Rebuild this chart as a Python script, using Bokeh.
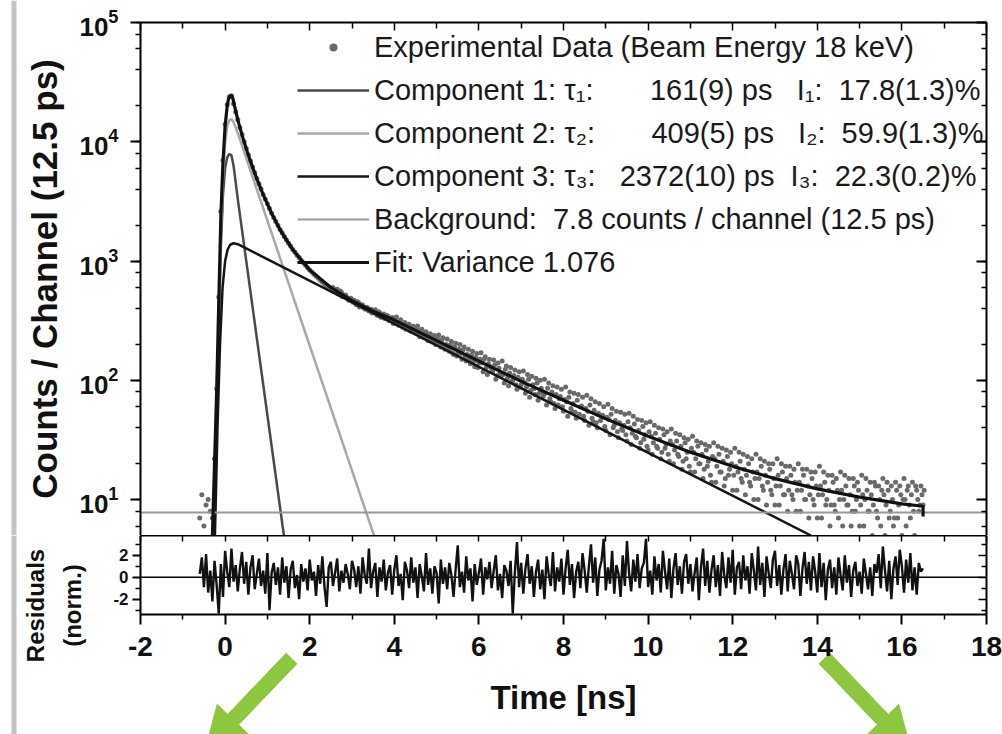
import math
from bokeh.plotting import figure
from bokeh.models import (LinearAxis, LogAxis, Legend, LegendItem, FixedTicker, LogTicker,
                          Range1d, CustomJSTickFormatter, Label, BoxAnnotation)
from bokeh.layouts import column
from bokeh.embed import file_html
from bokeh.resources import INLINE

# ---------------- data ----------------
# experimental counts per channel: channel start / width in ns
data_t0 = -0.6
data_dt = 0.05
data_counts = [
    7, 11, 6, 9, 10, 8, 7, 22, 85, 500, 2600, 7000,
    14000, 20500, 23800, 24300, 20800, 17800, 15300, 13200, 11500, 10000,
    8800, 7750, 6900, 6150, 5500, 4920, 4450, 4020, 3620, 3300,
    3020, 2760, 2520, 2320, 2150, 1990, 1840, 1720, 1600, 1500,
    1410, 1330, 1250, 1190, 1120, 1070, 1010, 970, 920, 880,
    840, 810, 775, 745, 720, 690, 668, 645, 625, 605, 590,
    600, 565, 580, 540, 548, 512, 520, 490, 482, 470,
    470, 430, 452, 420, 428, 398, 410, 382, 395, 372,
    390, 350, 372, 338, 360, 330, 345, 318, 336, 310,
    340, 290, 322, 278, 305, 270, 295, 258, 284, 250,
    285, 232, 268, 228, 255, 215, 246, 210, 238, 205,
    240, 190, 228, 182, 222, 175, 212, 165, 205, 170,
    200, 150, 190, 145, 182, 138, 175, 130, 168, 140,
    170, 118, 158, 112, 150, 125, 148, 102, 140, 115,
    145, 95, 132, 90, 128, 100, 122, 84, 118, 92,
    120, 78, 112, 72, 108, 85, 104, 68, 100, 80,
    102, 62, 95, 66, 90, 58, 88, 70, 84, 55,
    88, 50, 80, 55, 78, 48, 76, 60, 72, 46,
    75, 42, 70, 45, 66, 40, 64, 50, 60, 38,
    63, 35, 58, 42, 55, 33, 54, 38, 52, 31,
    53, 29, 50, 34, 47, 27, 46, 32, 44, 26,
    45, 24, 42, 28, 40, 22, 39, 27, 37, 21,
    39, 20, 36, 24, 35, 18, 33, 22, 32, 17,
    34, 17, 31, 20, 30, 15, 29, 19, 28, 14,
    30, 14, 28, 17, 27, 13, 26, 16, 25, 12,
    27, 12, 25, 15, 24, 11, 23, 14, 22, 10,
    24, 10, 22, 13, 21, 9, 20, 12, 20, 9,
    22, 9, 20, 11, 19, 8, 19, 11, 18, 8,
    20, 8, 18, 10, 18, 7, 17, 10, 17, 7,
    19, 7, 17, 9, 16, 6, 16, 9, 15, 7,
    17, 6, 16, 9, 15, 6, 15, 8, 14, 6,
    16, 6, 15, 8, 14, 5, 14, 8, 13, 6,
    15, 5, 14, 7, 13, 6, 14, 7, 13, 5,
    15, 6, 13, 7, 14, 5, 12, 8, 13, 9,
]
# the in-between channels of the tail (start 2.575 ns, same width)
data2_t0 = 2.575
data2_dt = 0.05
data2_counts = [
    575, 555, 530, 560, 505, 515, 495, 470, 488, 452,
    445, 455, 412, 430, 405, 395, 402, 388, 366, 380,
    362, 375, 340, 348, 330, 352, 318, 325, 300, 328,
    305, 312, 288, 296, 268, 290, 262, 275, 255, 268,
    250, 262, 236, 248, 222, 240, 212, 228, 200, 222,
    205, 218, 195, 200, 186, 198, 170, 190, 160, 182,
    168, 180, 158, 165, 150, 162, 144, 155, 128, 150,
    140, 150, 128, 138, 130, 118, 135, 110, 126, 108,
    112, 124, 104, 115, 98, 110, 92, 106, 88, 102,
    96, 88, 102, 82, 92, 76, 95, 78, 86, 74,
    78, 86, 70, 80, 64, 76, 62, 73, 60, 69,
    66, 72, 58, 64, 54, 68, 52, 61, 50, 58,
    55, 62, 48, 56, 44, 53, 46, 51, 41, 49,
    47, 52, 40, 46, 37, 44, 39, 42, 35, 45,
    40, 36, 43, 33, 38, 30, 41, 35, 28, 37,
    34, 30, 36, 27, 32, 25, 35, 29, 24, 31,
    29, 26, 31, 23, 28, 21, 30, 25, 19, 27,
    25, 22, 28, 20, 24, 18, 26, 21, 16, 23,
    22, 19, 24, 17, 21, 15, 23, 18, 20, 16,
    19, 17, 21, 14, 18, 16, 20, 13, 17, 15,
    17, 15, 19, 12, 16, 14, 18, 11, 15, 13,
    16, 13, 17, 11, 15, 12, 16, 10, 14, 12,
    14, 12, 16, 10, 13, 11, 15, 9, 13, 11,
    13, 11, 14, 10, 12, 9, 14, 8, 12, 10,
    12, 10, 13, 9, 11, 8, 13, 10, 12, 9,
    11, 10, 12, 8, 11, 9, 13, 7, 10, 12,
    11, 9, 12, 8, 10, 7, 12, 9, 11, 10,
    10, 12, 9, 11, 8, 13, 10, 9, 11, 12,
]

fit_t = [-0.30, -0.25, -0.20, -0.15, -0.10, -0.05, 0.00, 0.05, 0.08, 0.12, 0.15, 0.18, 0.22,
         0.30, 0.40, 0.50, 0.60, 0.75, 0.90, 1.10, 1.30, 1.60, 2.00, 2.50,
         3.00, 3.50, 4.00, 5.00, 6.00, 7.00, 8.00, 9.00,
         10.0, 11.0, 12.0, 13.0, 14.0, 15.0, 16.0, 16.5, 16.5]
fit_y = [5, 20, 80, 450, 2400, 6800, 13500, 20000, 22800, 24200, 24400, 23300, 20200,
         15250, 11410, 8750, 6850, 4890, 3600, 2510, 1825, 1245, 840, 600,
         465, 380, 320, 215, 145, 98, 68, 47.5,
         34, 25, 19, 15, 12.3, 10.5, 9.2, 8.8, 7.2]

c1_t = [-0.26, -0.20, -0.15, -0.10, -0.05, 0.00, 0.05, 0.10, 0.15, 0.20, 0.30, 1.39]
c1_y = [5, 40, 250, 1300, 3600, 6000, 7400, 7900, 7700, 6300, 3300, 5]

c2_t = [-0.27, -0.20, -0.15, -0.10, -0.05, 0.00, 0.05, 0.10, 0.15, 0.20, 0.30, 3.52]
c2_y = [5, 55, 330, 1700, 5000, 9800, 13500, 15200, 15500, 14600, 11800, 5]

c3_t = [-0.24, -0.18, -0.12, -0.06, 0.00, 0.06, 0.12, 0.20, 0.30, 13.85]
c3_y = [5, 40, 200, 600, 1000, 1250, 1370, 1410, 1385, 5]

bg_level = 7.8

res_t0 = -0.6
res_dt = 0.05
residuals = [
    0.3, 1.8, -0.9, 2.1, -1.4, 0.6, -2.2, 1.5, -0.7, -3.3,
    1.2, -1.8, 2.4, 0.5, -0.9, 2.6, -0.4, 1.1, -1.3, 0.8,
    2.3, -0.6, 1.4, -1.6, 0.9, 2.0, -1.1, 0.3, 1.7, -0.8,
    0.6, -1.5, 2.2, -3.0, 0.4, 1.3, -0.7, 0.9, -1.6, 1.8,
    -0.5, 1.0, -1.9, 0.7, 1.5, -1.0, 0.2, -2.0, 1.2, -0.4,
    0.8, -1.2, 1.6, -0.3, 0.5, -1.7, 1.1, -0.6, 1.9, -0.9,
    -2.7, 0.9, 1.4, -0.8, 0.4, 1.7, -1.3, 0.6, -0.5, 1.2,
    0.3, -1.1, 1.5, 0.7, -0.9, 1.0, -1.5, 1.8, 0.2, -0.6,
    2.6, -1.0, 0.5, 1.3, -1.8, 0.9, -0.4, 1.6, -1.2, 0.4,
    1.1, -1.6, 0.7, 2.0, -0.8, 0.3, -2.1, 1.4, 0.6, -1.0,
    1.8, -0.5, 0.9, -1.9, 1.2, 0.1, -1.3, 2.2, -0.7, 0.8,
    -1.5, 1.0, 0.4, -2.4, 1.6, -0.6, 0.9, -1.1, 1.3, 0.2,
    -1.8, 0.7, 2.9, -0.9, 0.5, -1.4, 1.9, -0.3, 0.8, -2.2,
    1.2, -0.7, 0.4, 1.7, -1.6, 0.9, -0.2, 1.4, -1.0, 0.6,
    2.0, -1.2, 0.3, -1.9, 1.1, 0.6, -0.8, 1.5, -3.3, 0.4,
    3.2, -0.9, 1.3, -1.5, 0.8, 2.1, -0.6, 1.0, -1.8, 0.5,
    1.6, -1.1, 0.7, -2.0, 1.9, 0.3, -0.8, 2.3, -1.3, 0.9,
    -0.4, 1.7, -1.6, 0.8, 2.5, -0.7, 1.2, -1.9, 0.5, 1.4,
    -1.0, 2.2, 0.6, -1.4, 1.0, 3.0, -0.5, 1.8, -1.7, 0.7,
    1.5, 3.5, -1.2, 0.9, -0.6, 2.4, -1.5, 1.1, 0.3, -1.8,
    2.0, -0.8, 3.3, 0.4, -1.3, 1.6, -0.4, 2.1, -1.0, 0.8,
    1.3, 3.5, -0.9, 0.6, -1.6, 1.9, -0.3, 1.2, -1.4, 2.4,
    0.5, -1.1, 1.7, -1.9, 0.8, 2.2, -0.7, 1.0, -1.5, 1.4,
    2.1, -0.6, 1.2, -1.3, 0.4, 1.8, -2.1, 0.9, 2.6, -0.8,
    1.5, -1.4, 0.7, 2.0, -0.9, 1.1, -1.7, 2.3, 0.2, -1.0,
    1.8, -0.5, 2.5, -1.6, 0.9, 1.4, -1.1, 2.0, -0.3, 1.0,
    -1.5, 2.2, 0.6, -1.2, 2.8, -0.7, 1.3, -1.8, 1.9, 0.4,
    -1.0, 1.6, 2.4, -0.8, 1.1, -1.6, 0.7, 2.1, -1.3, 1.5,
    0.3, -1.1, 2.0, 1.2, -1.7, 0.8, 2.3, -0.6, 1.4, -1.2,
    1.9, 0.5, -1.4, 2.2, -0.9, 1.3, -2.1, 0.7, 1.6, -1.0,
    0.9, -1.6, 1.8, 0.2, -1.2, 2.0, -0.5, 1.1, -1.8, 0.6,
    1.4, -0.8, 0.5, -1.5, 1.7, 0.3, -1.1, 0.9, -1.7, 1.2,
    0.4, 2.1, -1.0, 2.8, 0.6, -1.3, 1.5, -2.0, 0.8, 1.9,
    -0.7, 2.5, 1.0, -1.4, 1.6, -0.5, 2.2, -1.2, 0.9, -1.6,
    1.3, 0.5, 0.8,
]

x_ticks = [-2, 0, 2, 4, 6, 8, 10, 12, 14, 16, 18]
x_minor = [-1, 1, 3, 5, 7, 9, 11, 13, 15, 17]
res_ticks = [-2, 0, 2]
res_minor = [-3, -1, 1, 3]

NB = "\u00a0"
FS = "\u2007"
legend_labels = [
    "Experimental Data (Beam Energy 18 keV)",
    "Component 1: \u03c4\u2081:" + NB * 3 + FS * 2 + "161(9) ps" + NB * 3 + "I\u2081:" + NB * 2 + "17.8(1.3)%",
    "Component 2: \u03c4\u2082:" + NB * 3 + FS * 2 + "409(5) ps" + NB * 3 + "I\u2082:" + NB * 2 + "59.9(1.3)%",
    "Component 3: \u03c4\u2083:" + NB * 3 + "2372(10) ps" + NB * 2 + "I\u2083:" + NB * 2 + "22.3(0.2)%",
    "Background:" + NB * 2 + "7.8 counts / channel (12.5 ps)",
    "Fit: Variance 1.076",
]

# ---------------- layout constants (page pixels) ----------------
FONT = "Liberation Sans"
X_MIN, X_MAX = -2, 18
Y_MIN, Y_MAX = 5, 1e5
RES_MIN, RES_MAX = -3.4, 3.8
BOX_LEFT, BOX_W = 140, 846          # page x of the plot box, its width
PAGE_W = 1002
TOP, FRAME_H = 22, 513              # page y of the box top, height of the log box
RES_H, BELOW = 79, 120
PPX = BOX_W / (X_MAX - X_MIN)                               # px per ns
PPD = FRAME_H / (math.log10(Y_MAX) - math.log10(Y_MIN))     # px per decade
PPY = RES_H / (RES_MAX - RES_MIN)                           # px per residual unit
ZERO_Y = 614 - (0 - RES_MIN) * PPY                          # page y of residual 0

data_t = [data_t0 + i * data_dt for i in range(len(data_counts))]
data2_t = [data2_t0 + i * data2_dt for i in range(len(data2_counts))]
res_t = [res_t0 + i * res_dt for i in range(len(residuals))]


def blank():
    return CustomJSTickFormatter(code="return ''")


def plain():
    return CustomJSTickFormatter(code="return String(tick)")


def px_to_x(px):
    return X_MIN + (px - BOX_LEFT) / PPX


def py_to_res(py):
    return -(py - ZERO_Y) / PPY


# frames span the full page; the plot boxes are drawn by axes bounded to them
x_range = Range1d(px_to_x(0), px_to_x(PAGE_W))

# ---------------- main (log) panel ----------------
p1 = figure(frame_width=PAGE_W, frame_height=TOP + FRAME_H, x_range=x_range,
            y_range=Range1d(Y_MIN, 10 ** (math.log10(Y_MAX) + TOP / PPD)),
            y_axis_type="log", x_axis_location=None,
            output_backend="svg", toolbar_location=None, min_border=0)
p1.grid.visible = False
p1.outline_line_color = None

ya = p1.left[0]
ya.fixed_location = X_MIN
ya.bounds = (Y_MIN, Y_MAX)
ya.ticker = LogTicker()
ya.axis_line_width = 2
ya.major_tick_out = 10
ya.major_tick_in = 0
ya.minor_tick_out = 5
ya.minor_tick_in = 0
ya.major_tick_line_width = 2
ya.minor_tick_line_width = 1.5
ya.major_label_text_font = FONT
ya.major_label_text_font_style = "bold"
ya.major_label_text_font_size = "26px"
ya.major_label_text_color = "#111111"
ya.major_label_standoff = 12
ya.axis_label = "Counts / Channel (12.5 ps)"
ya.axis_label_text_font = FONT
ya.axis_label_text_font_style = "bold"
ya.axis_label_text_font_size = "35px"
ya.axis_label_text_color = "#111111"
ya.axis_label_standoff = 12

top = LinearAxis(fixed_location=Y_MAX, bounds=(X_MIN, X_MAX),
                 ticker=FixedTicker(ticks=x_ticks, minor_ticks=x_minor),
                 formatter=blank(), major_label_standoff=0,
                 major_tick_in=8, major_tick_out=0, minor_tick_in=6, minor_tick_out=0,
                 major_tick_line_width=1.5, minor_tick_line_width=1.5, axis_line_width=2)
p1.add_layout(top, "above")
right = LogAxis(fixed_location=X_MAX, bounds=(Y_MIN, Y_MAX), ticker=LogTicker(),
                formatter=blank(), major_label_standoff=0,
                major_tick_in=10, major_tick_out=0, minor_tick_in=5, minor_tick_out=0,
                major_tick_line_width=2, minor_tick_line_width=1.5, axis_line_width=2)
p1.add_layout(right, "right")

p1.add_layout(BoxAnnotation(left=px_to_x(11), right=px_to_x(16), fill_color="#c2c2c2",
                            fill_alpha=1, line_alpha=0))

r_data = p1.scatter(data_t, data_counts, size=5, color="#6a6a6a", line_color=None)
p1.scatter(data2_t, data2_counts, size=5, color="#6a6a6a", line_color=None)
r_c1 = p1.line(c1_t, c1_y, line_color="#4a4a4a", line_width=2.5)
r_c2 = p1.line(c2_t, c2_y, line_color="#a8a8a8", line_width=2.5)
r_c3 = p1.line(c3_t, c3_y, line_color="#151515", line_width=2.5)
r_bg = p1.line([X_MIN, X_MAX], [bg_level, bg_level], line_color="#999999", line_width=2)
r_fit = p1.line(fit_t, fit_y, line_color="#111111", line_width=3.2)

# legend placed by its bottom-left corner, in pixels from the frame's bottom-left corner
legend = Legend(items=[LegendItem(label=lab, renderers=[r]) for lab, r in
                       zip(legend_labels, [r_data, r_c1, r_c2, r_c3, r_bg, r_fit])],
                location=(294, 251), label_text_font=FONT, label_text_font_size="29px",
                label_text_color="#1a1a1a", glyph_width=72, glyph_height=20,
                label_standoff=5, spacing=5, label_height=38, padding=3, margin=0,
                border_line_alpha=0, background_fill_alpha=0)
p1.add_layout(legend)

# ---------------- residual panel ----------------
p2 = figure(frame_width=PAGE_W, frame_height=RES_H + BELOW, x_range=x_range,
            y_range=Range1d(RES_MIN - BELOW / PPY, RES_MAX),
            output_backend="svg", toolbar_location=None, min_border=0)
p2.grid.visible = False
p2.outline_line_color = None

xa = p2.xaxis[0]
xa.fixed_location = RES_MIN
xa.bounds = (X_MIN, X_MAX)
xa.ticker = FixedTicker(ticks=x_ticks, minor_ticks=x_minor)
xa.formatter = plain()
xa.axis_line_width = 2
xa.major_tick_out = 10
xa.major_tick_in = 0
xa.minor_tick_out = 5
xa.minor_tick_in = 0
xa.major_tick_line_width = 2
xa.minor_tick_line_width = 1.5
xa.major_label_text_font = FONT
xa.major_label_text_font_style = "bold"
xa.major_label_text_font_size = "28px"
xa.major_label_text_color = "#111111"
xa.major_label_standoff = 12

ra = p2.yaxis[0]
ra.fixed_location = X_MIN
ra.bounds = (RES_MIN, RES_MAX)
ra.ticker = FixedTicker(ticks=res_ticks, minor_ticks=res_minor)
ra.formatter = plain()
ra.axis_line_width = 2
ra.major_tick_out = 8
ra.major_tick_in = 0
ra.minor_tick_out = 5
ra.minor_tick_in = 0
ra.major_tick_line_width = 2
ra.minor_tick_line_width = 1.5
ra.major_label_text_font = FONT
ra.major_label_text_font_style = "bold"
ra.major_label_text_font_size = "17px"
ra.major_label_text_color = "#111111"
ra.major_label_standoff = 4

top2 = LinearAxis(bounds=(X_MIN, X_MAX), ticker=FixedTicker(ticks=x_ticks, minor_ticks=x_minor),
                  formatter=blank(), major_label_standoff=0,
                  major_tick_in=6, major_tick_out=0, minor_tick_in=6, minor_tick_out=0,
                  major_tick_line_width=1.5, minor_tick_line_width=1.5, axis_line_width=2)
p2.add_layout(top2, "above")
right2 = LinearAxis(fixed_location=X_MAX, bounds=(RES_MIN, RES_MAX),
                    ticker=FixedTicker(ticks=res_ticks, minor_ticks=res_minor),
                    formatter=blank(), major_label_standoff=0,
                    major_tick_in=8, major_tick_out=0, minor_tick_in=5, minor_tick_out=0,
                    major_tick_line_width=1.5, minor_tick_line_width=1.5, axis_line_width=2)
p2.add_layout(right2, "right")

p2.add_layout(BoxAnnotation(left=px_to_x(11), right=px_to_x(16), fill_color="#c2c2c2",
                            fill_alpha=1, line_alpha=0))

p2.line([X_MIN, X_MAX], [0, 0], line_color="black", line_width=1.5)
p2.line(res_t, residuals, line_color="#111111", line_width=2.4)

# texts of the lower panel
for txt, px in [("Residuals", 35), ("(norm.)", 72)]:
    p2.add_layout(Label(x=px_to_x(px), y=py_to_res(605), text=txt, angle=math.pi / 2,
                        text_align="center", text_baseline="middle", text_font=FONT,
                        text_font_style="bold", text_font_size="24px", text_color="#111111"))
p2.add_layout(Label(x=(X_MIN + X_MAX) / 2, y=py_to_res(697), text="Time [ns]",
                    text_align="center", text_baseline="middle", text_font=FONT,
                    text_font_style="bold", text_font_size="33px", text_color="#111111"))

# green pointer arrows below the axis, designed in page pixels: tail -> tip
GREEN = "#8dc63f"
for (tx, ty), (ex, ey) in [((291, 658), (205, 748)), ((824, 658), (910, 748))]:
    L = math.hypot(ex - tx, ey - ty)
    ux, uy = (ex - tx) / L, (ey - ty) / L
    nx, ny = -uy, ux
    sw, hw, hl = 7.5, 22, 40
    bx, by = ex - ux * hl, ey - uy * hl
    pts = [(tx + nx * sw, ty + ny * sw), (bx + nx * sw, by + ny * sw), (bx + nx * hw, by + ny * hw),
           (ex, ey), (bx - nx * hw, by - ny * hw), (bx - nx * sw, by - ny * sw),
           (tx - nx * sw, ty - ny * sw)]
    p2.patch([px_to_x(a) for a, b in pts], [py_to_res(b) for a, b in pts],
             fill_color=GREEN, line_color=GREEN, line_width=1)

layout = column(p1, p2, spacing=0)
open("out.html", "w").write(file_html(layout, INLINE))
